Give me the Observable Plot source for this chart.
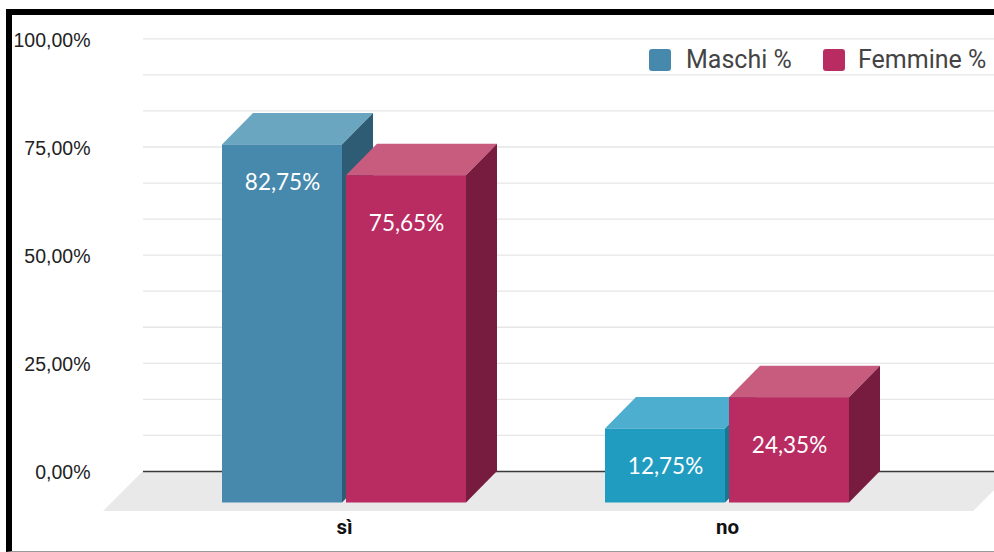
<!DOCTYPE html>
<html>
<head>
<meta charset="utf-8">
<script src="https://cdn.jsdelivr.net/npm/d3@7"></script>
<script src="https://cdn.jsdelivr.net/npm/@observablehq/plot@0.6"></script>
<style>
  html, body { margin: 0; padding: 0; background: #fff; }
  #wrap { position: relative; width: 994px; height: 552px; overflow: hidden; }
  #frame { position: absolute; left: 6px; top: 9px; width: 1000px; height: 543px; box-sizing: border-box;
           border-left: 6px solid #000; border-top: 6px solid #000; border-bottom: 1px solid #9a9a9a; pointer-events: none; }
  .leg { position: absolute; top: 46px; font-family: Roboto, "Liberation Sans", sans-serif; font-size: 25px; color: #444; line-height: 27px; }
  .sw { position: absolute; top: 49px; width: 22px; height: 22px; border-radius: 3px; }
</style>
</head>
<body>
<div id="wrap">
  <div id="chart"></div>
  <div id="frame"></div>
</div>
<script>
// ---- data ----
const categories = ["sì", "no"];
const seriesNames = ["Maschi %", "Femmine %"];
const maschi = [82.75, 17.1];          // bar heights as drawn
const femmine = [75.65, 24.35];
const maschiLabels = ["82,75%", "12,75%"];
const femmineLabels = ["75,65%", "24,35%"];
const yTicks = [0, 25, 50, 75, 100];

// ---- colours (per category for Maschi, as in the picture) ----
const maschiFront = ["#4789ad", "#219cc1"];
const maschiTop   = ["#6ba6c1", "#4daecf"];
const maschiSide  = ["#2d5c74", "#1a7792"];
const femFront = "#b92c62", femTop = "#c75c7f", femSide = "#771c3e";

// ---- layout (pixel geometry converted to scale units) ----
const W = 994, H = 552;
const mLeft = 143, mBottom = 41;
const pxPerX = 383, x0px = 344;             // category spacing, centre of first category
const pxPerY = 4.327, zeroPx = 471;
const xDom = [(mLeft - x0px) / pxPerX, (W - x0px) / pxPerX];
const yDom = [-(H - mBottom - zeroPx) / pxPerY, zeroPx / pxPerY];
const barW = 120 / pxPerX, gap = 4 / pxPerX;
const dX = 31 / pxPerX, dY = 31.5 / pxPerY;         // 3D depth of bars
const fX = 40 / pxPerX, fY = yDom[0];               // floor depth
const grid = d3.range(0, 13).map(i => i * 100 / 12);

function faces(values, side) {
  return values.map((v, i) => {
    const xl = side === 0 ? i - gap / 2 - barW : i + gap / 2;
    const xr = xl + barW;
    return {i, v, xl, xr, xc: (xl + xr) / 2, yb: -dY, yt: v - dY};
  });
}
const M = faces(maschi, 0), F = faces(femmine, 1);
const topPts = (bars, col) => bars.flatMap(b => [
  {id: b.i, y: b.yt, x1: b.xl, x2: b.xr, c: col(b.i)},
  {id: b.i, y: b.v, x1: b.xl + dX, x2: b.xr + dX, c: col(b.i)}]);
const sidePts = (bars, col) => bars.flatMap(b => [
  {id: b.i, x: b.xr, y1: b.yb, y2: b.yt, c: col(b.i)},
  {id: b.i, x: b.xr + dX, y1: 0, y2: b.v, c: col(b.i)}]);

const floor = [
  {y: fY, x1: xDom[0] - fX, x2: xDom[1] + 0.05 - fX},
  {y: 0, x1: xDom[0], x2: xDom[1] + 0.05}];

function barMarks(bars, front, top, side, labels, ldy) {
  return [
    Plot.areaX(topPts(bars, top), {y: "y", x1: "x1", x2: "x2", z: "id", fill: "c"}),
    Plot.areaY(sidePts(bars, side), {x: "x", y1: "y1", y2: "y2", z: "id", fill: "c"}),
    Plot.rect(bars, {x1: "xl", x2: "xr", y1: "yb", y2: "yt", fill: b => front(b.i)}),
    Plot.text(bars, {x: "xc", y: "yt", text: b => labels[b.i], dy: ldy, fill: "#fff",
      fontSize: 22.5, fontFamily: "Lato, 'Open Sans', sans-serif"})
  ];
}

const fmt = d => d.toFixed(2).replace(".", ",") + "%";

const chart = Plot.plot({
  width: W, height: H,
  marginLeft: mLeft, marginRight: 0, marginTop: 0, marginBottom: mBottom,
  x: {domain: xDom, axis: null},
  y: {domain: yDom, axis: null},
  color: {type: "identity"},
  style: {background: "transparent", overflow: "visible"},
  marks: [
    Plot.areaX(floor, {y: "y", x1: "x1", x2: "x2", fill: "#e9e9e9"}),
    Plot.ruleY(grid.filter(d => d > 0), {stroke: "#e6e6e6", strokeWidth: 1.3}),
    Plot.ruleY([0], {stroke: "#3a3a3a", strokeWidth: 1.6}),
    ...barMarks(M, i => maschiFront[i], i => maschiTop[i], i => maschiSide[i], maschiLabels, 38),
    ...barMarks(F, () => femFront, () => femTop, () => femSide, femmineLabels, 48),
    Plot.text(yTicks, {y: d => d, frameAnchor: "left", text: fmt, textAnchor: "end", dx: -53, dy: 1.5,
      fontSize: 19.5, fill: "#222", fontFamily: "'Liberation Sans', Arial, sans-serif"}),
    Plot.text(categories, {x: (d, i) => i, frameAnchor: "bottom", text: d => d, dy: 22,
      fontSize: 20.5, fontWeight: "bold", fill: "#111", fontFamily: "Roboto, 'Liberation Sans', sans-serif"})
  ]
});
document.getElementById("chart").appendChild(chart);

// legend
const wrap = document.getElementById("wrap");
const legendItems = [
  {name: seriesNames[0], color: maschiFront[0], sx: 649, tx: 686},
  {name: seriesNames[1], color: femFront, sx: 823, tx: 858}];
legendItems.forEach(l => {
  const s = document.createElement("div");
  s.className = "sw"; s.style.left = l.sx + "px"; s.style.background = l.color;
  const t = document.createElement("div");
  t.className = "leg"; t.style.left = l.tx + "px"; t.textContent = l.name;
  wrap.appendChild(s); wrap.appendChild(t);
});
</script>
</body>
</html>
